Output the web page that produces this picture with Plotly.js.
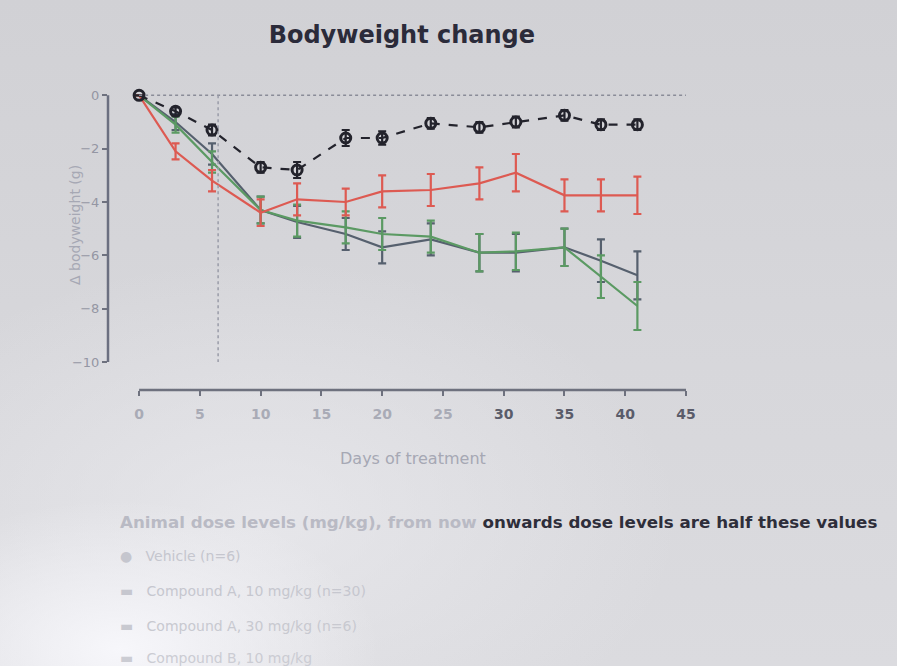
<!DOCTYPE html>
<html>
<head>
<meta charset="utf-8">
<script src="https://cdn.plot.ly/plotly-3.0.1.min.js"></script>
<style>
  html, body { margin: 0; padding: 0; }
  body {
    width: 897px; height: 666px; overflow: hidden;
    background:
      radial-gradient(ellipse 260px 150px at 120px 650px, rgba(248,248,252,0.95), rgba(248,248,252,0) 100%),
      radial-gradient(ellipse 420px 260px at 260px 520px, rgba(236,236,240,0.7), rgba(236,236,240,0) 100%),
      linear-gradient(to bottom, #d1d1d5 0%, #d7d7db 55%, #dbdbdf 100%);
  }
  #chart { width: 897px; height: 666px; }
</style>
</head>
<body>
<div id="chart"></div>
<script>
// Days on which bodyweight was recorded
const days = [0, 3, 6, 10, 13, 17, 20, 24, 28, 31, 35, 38, 41];

// Mean change in bodyweight (g) per group
const vehicle   = [0, -0.6, -1.3, -2.7, -2.8, -1.6, -1.6, -1.05, -1.2, -1.0, -0.75, -1.1, -1.1];
const groupRed  = [0, -2.1, -3.2, -4.4, -3.9, -4.0, -3.6, -3.55, -3.3, -2.9, -3.75, -3.75, -3.75];
const groupGrey = [0, -1.0, -2.2, -4.3, -4.75, -5.2, -5.7, -5.4, -5.9, -5.9, -5.7, -6.2, -6.75];
const groupGreen= [0, -1.1, -2.5, -4.3, -4.7, -4.95, -5.2, -5.3, -5.9, -5.85, -5.7, -6.8, -7.9];

// Standard errors (g)
const vehicleErr   = [0, 0.15, 0.2, 0.2, 0.3, 0.3, 0.25, 0.2, 0.2, 0.2, 0.2, 0.2, 0.2];
const groupRedErr  = [0, 0.3, 0.4, 0.5, 0.6, 0.5, 0.6, 0.6, 0.6, 0.7, 0.6, 0.6, 0.7];
const groupGreyErr = [0, 0.3, 0.4, 0.5, 0.6, 0.6, 0.6, 0.6, 0.7, 0.7, 0.7, 0.8, 0.9];
const groupGreenErr= [0, 0.3, 0.4, 0.5, 0.6, 0.6, 0.6, 0.6, 0.7, 0.7, 0.7, 0.8, 0.9];

// Axis ticks
const xTicks = [0, 5, 10, 15, 20, 25, 30, 35, 40, 45];
const yTicks = [0, -2, -4, -6, -8, -10];

// Day the dose was halved
const doseChangeDay = 6.5;

const FONT = 'DejaVu Sans, Verdana, sans-serif';

function series(y, err, color, dash, marker) {
  return {
    x: days, y: y, type: 'scatter', mode: marker ? 'lines+markers' : 'lines',
    cliponaxis: false,
    line: { color: color, width: 2.2, dash: dash },
    marker: marker || { size: 4, color: color },
    error_y: { type: 'data', array: err, visible: true, color: color, thickness: 2.2, width: 4 },
    showlegend: false
  };
}

const traces = [
  series(groupGrey, groupGreyErr, '#56606e', 'solid'),
  series(groupGreen, groupGreenErr, '#5b9a63', 'solid'),
  series(groupRed, groupRedErr, '#dd5a52', 'solid'),
  series(vehicle, vehicleErr, '#23232c', 'dash',
         { size: 10, symbol: 'circle-open', color: '#23232c', line: { width: 3, color: '#23232c' } })
];

const xTickText = xTicks.map((t, i) => {
  const c = i < 6 ? '#a9abb6' : '#5a5c6a';
  return '<span style="color:' + c + '"><b>' + t + '</b></span>';
});

const layout = {
  width: 897, height: 666,
  paper_bgcolor: 'rgba(0,0,0,0)',
  plot_bgcolor: 'rgba(0,0,0,0)',
  margin: { l: 108, r: 211, t: 86, b: 276 },
  font: { family: FONT, color: '#9a9ca8' },
  title: {
    text: '<b>Bodyweight change</b>',
    x: 0.448, xanchor: 'center', y: 0.948, yanchor: 'middle',
    font: { size: 24, color: '#2b2b3a', family: FONT }
  },
  xaxis: {
    range: [-2.56, 45],
    showgrid: false, zeroline: false, showline: false,
    tickvals: xTicks, ticktext: xTickText,
    ticks: 'outside', ticklen: 5, tickwidth: 2, tickcolor: '#6e717e',
    ticklabelstandoff: 6,
    tickfont: { size: 14, family: FONT }
  },
  yaxis: {
    range: [-11.05, 0.35],
    showgrid: false, zeroline: false, showline: false,
    tickvals: yTicks,
    ticks: 'outside', ticklen: 5, tickwidth: 2, tickcolor: '#6e717e',
    tickfont: { size: 13, color: '#9496a3', family: FONT }
  },
  shapes: [
    // y axis line
    { type: 'line', xref: 'paper', yref: 'y', x0: 0, x1: 0, y0: 0, y1: -10,
      line: { color: '#6b6f80', width: 2.5 } },
    // x axis line
    { type: 'line', xref: 'x', yref: 'paper', x0: 0, x1: 45, y0: 0, y1: 0,
      line: { color: '#6e717e', width: 2.5 } },
    // zero reference
    { type: 'line', xref: 'x', yref: 'y', x0: 0, x1: 45, y0: 0, y1: 0,
      line: { color: '#8a8c98', width: 1.5, dash: 'dot' } },
    // dose change marker
    { type: 'line', xref: 'x', yref: 'y', x0: doseChangeDay, x1: doseChangeDay, y0: 0, y1: -10,
      line: { color: '#9a9ca8', width: 1.5, dash: 'dot' } }
  ],
  annotations: [
    // axis titles
    { xref: 'paper', yref: 'paper', x: 0.528, y: -0.224, xanchor: 'center', yanchor: 'middle',
      showarrow: false, text: 'Days of treatment',
      font: { size: 16, color: '#a6a8b4', family: FONT } },
    { xref: 'paper', yref: 'paper', x: -0.057, y: 0.543, xanchor: 'center', yanchor: 'middle',
      showarrow: false, textangle: -90, text: 'Δ bodyweight (g)',
      font: { size: 14, color: '#a6a8b4', family: FONT } },
    // dosing note and group list
    { xref: 'paper', yref: 'paper', x: 0.018, y: -0.435, xanchor: 'left', yanchor: 'middle',
      showarrow: false, align: 'left',
      font: { size: 16.7, family: FONT },
      text: '<span style="color:#b9bac4"><b>Animal dose levels (mg/kg), from now</b></span>' +
            '<span style="color:#2e2e3a"><b> onwards dose levels are half these values</b></span>' },
    { xref: 'paper', yref: 'paper', x: 0.018, y: -0.545, xanchor: 'left', yanchor: 'middle',
      showarrow: false, font: { size: 14, color: '#c5c6ce' }, text: '●   Vehicle (n=6)' },
    { xref: 'paper', yref: 'paper', x: 0.018, y: -0.66, xanchor: 'left', yanchor: 'middle',
      showarrow: false, font: { size: 14, color: '#c6c7cf' }, text: '▬   Compound A, 10 mg/kg (n=30)' },
    { xref: 'paper', yref: 'paper', x: 0.018, y: -0.775, xanchor: 'left', yanchor: 'middle',
      showarrow: false, font: { size: 14, color: '#c8c9d0' }, text: '▬   Compound A, 30 mg/kg (n=6)' },
    { xref: 'paper', yref: 'paper', x: 0.018, y: -0.88, xanchor: 'left', yanchor: 'middle',
      showarrow: false, font: { size: 14, color: '#cbccd3' }, text: '▬   Compound B, 10 mg/kg' }
  ]
};

Plotly.newPlot('chart', traces, layout, { displayModeBar: false, staticPlot: true });
</script>
</body>
</html>
